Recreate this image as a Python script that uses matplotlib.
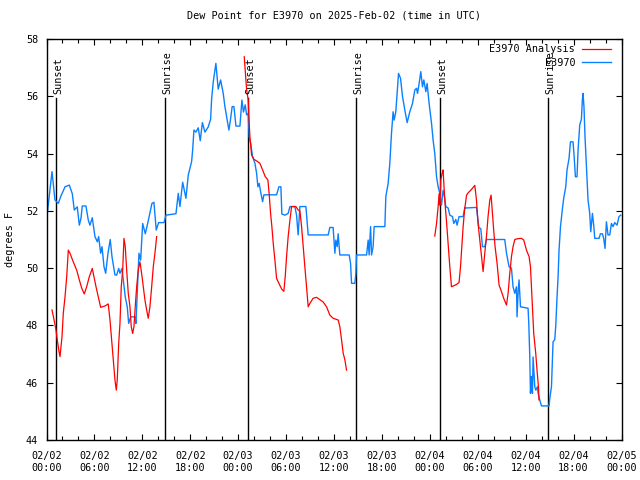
import numpy as np
import matplotlib
matplotlib.use("Agg")
import matplotlib.pyplot as plt
from matplotlib.ticker import FixedLocator, MultipleLocator

# ---- data: hours since 2025-02-02 00:00 UTC, dew point (deg F) ----
obs_t = [0.10, 0.69, 1.06, 1.48, 1.78, 2.32, 2.85, 3.23, 3.48, 3.85, 4.11, 4.32, 4.48, 4.94, 5.23, 5.44,
         5.73, 6.07, 6.36, 6.53, 6.78, 6.95, 7.20, 7.41, 7.70, 7.98, 8.20, 8.57, 8.79, 9.04, 9.20, 9.45,
         9.86, 10.11, 10.29, 10.54, 11.08, 11.20, 11.58, 11.79, 12.04, 12.37, 12.70, 13.20, 13.45, 13.74,
         14.04, 14.71, 14.96, 16.21, 16.50, 16.71, 17.05, 17.46, 17.75, 18.17, 18.30, 18.46, 18.71, 19.00,
         19.25, 19.52, 19.84, 20.25, 20.55, 20.68, 20.88, 21.21, 21.50, 21.80, 22.13, 22.34, 22.63, 22.84,
         23.03, 23.25, 23.47, 23.72, 24.22, 24.47, 24.66, 24.88, 25.06, 25.26, 25.38, 25.56, 25.81, 26.10,
         26.31, 26.47, 26.63, 26.81, 27.06, 27.22, 28.81, 29.10, 29.35, 29.47, 29.85, 30.26, 30.48, 31.10,
         31.31, 31.51, 31.73, 31.94, 32.48, 32.77, 35.27, 35.48, 35.89, 36.11, 36.23, 36.40, 36.52, 36.73,
         37.90, 38.07, 38.20, 38.61, 38.74, 38.82, 40.08, 40.28, 40.40, 40.58, 40.70, 40.90, 41.03, 42.37,
         42.49, 42.78, 42.99, 43.20, 43.40, 43.53, 43.74, 43.90, 44.08, 44.33, 44.58, 44.87, 45.16, 45.49,
         45.83, 46.12, 46.33, 46.46, 46.66, 46.87, 47.08, 47.25, 47.50, 47.66, 47.91, 48.21, 48.41, 48.62,
         48.84, 49.04, 49.25, 49.46, 49.66, 49.87, 49.99, 50.29, 50.50, 50.84, 51.00, 51.25, 51.41, 51.66,
         52.17, 52.38, 52.50, 53.84, 54.13, 54.38, 54.59, 54.88, 55.09, 57.38, 57.60, 57.92, 58.22, 58.42,
         58.64, 58.85, 58.92, 59.05, 59.17, 59.35, 60.30, 60.39, 60.51, 60.60, 60.72, 60.85, 60.93, 61.14,
         61.27, 61.48, 61.56, 61.76, 61.98, 62.93, 63.02, 63.23, 63.43, 63.64, 63.77, 63.93, 64.06, 64.18,
         64.36, 64.61, 64.77, 65.02, 65.18, 65.43, 65.61, 65.93, 66.06, 66.23, 66.43, 66.56, 66.77, 66.98,
         67.10, 67.18, 67.30, 67.43, 67.61, 67.81, 68.02, 68.15, 68.36, 68.52, 68.65, 69.19, 69.36, 69.61,
         69.77, 69.94, 70.11, 70.31, 70.53, 70.74, 70.94, 71.15, 71.44, 71.69, 71.90]
obs_v = [51.91, 53.37, 52.38, 52.26, 52.50, 52.84, 52.90, 52.60, 52.03, 52.14, 51.50, 51.74, 52.17, 52.17, 51.68, 51.50,
         51.76, 51.10, 50.92, 51.10, 50.52, 50.75, 50.05, 49.82, 50.52, 51.00, 50.40, 49.76, 49.76, 49.99, 49.82, 49.99,
         49.00, 48.65, 48.07, 48.30, 48.30, 48.07, 50.52, 50.28, 51.56, 51.20, 51.60, 52.26, 52.30, 51.33,
         51.59, 51.59, 51.85, 51.90, 52.61, 52.15, 53.00, 52.44, 53.25, 53.72, 54.12, 54.82, 54.75, 54.90,
         54.45, 55.08, 54.75, 54.93, 55.20, 55.93, 56.50, 57.15, 56.25, 56.57, 56.10, 55.64, 55.17, 54.82,
         55.17, 55.64, 55.64, 54.96, 54.96, 55.87, 55.45, 55.70, 55.35, 55.40, 54.59, 54.36, 53.89, 53.66,
         53.31, 52.84, 52.96, 52.67, 52.32, 52.56, 52.56, 52.84, 52.84, 51.89, 51.85, 51.91, 52.15, 52.15,
         51.85, 51.16, 52.15, 52.15, 52.15, 51.16, 51.16, 51.42, 51.42, 50.52, 50.98, 50.75, 51.20, 50.46,
         50.46, 50.17, 49.47, 49.47, 49.82, 50.46, 50.46, 50.98, 50.46, 51.45, 50.46, 50.75, 51.45, 51.45,
         52.50, 52.96, 53.66, 54.71, 55.46, 55.17, 55.46, 56.10, 56.80, 56.63, 55.99, 55.52, 55.08, 55.46,
         55.75, 56.22, 56.28, 56.10, 56.45, 56.86, 56.33, 56.57, 56.16, 56.45, 55.75, 55.06, 54.47, 54.00,
         53.19, 52.84, 52.61, 52.20, 52.72, 52.44, 52.15, 52.10, 51.85, 51.80, 51.56, 51.70, 51.50, 51.80,
         51.80, 52.12, 52.10, 52.12, 51.42, 51.38, 50.75, 50.75, 51.00, 51.00, 50.52, 50.05, 50.00, 49.35,
         49.12, 49.35, 48.30, 49.12, 49.59, 48.65, 48.60, 48.07, 46.97, 45.63, 46.22, 45.63, 46.90, 45.86,
         45.74, 45.86, 45.63, 45.40, 45.19, 45.19, 45.45, 45.86, 47.43, 47.50, 48.00, 49.00, 49.70, 50.63,
         51.45, 52.09, 52.45, 52.84, 53.43, 53.83, 54.41, 54.41, 53.94, 53.19, 53.19, 54.12, 55.00, 55.20,
         55.87, 56.10, 55.64, 54.59, 53.54, 52.38, 51.91, 51.27, 51.91, 51.50, 51.04, 51.04, 51.20, 51.20,
         51.04, 50.69, 51.62, 51.16, 51.16, 51.56, 51.45, 51.59, 51.50, 51.80, 51.85]

ana_t = [0.69, 0.94, 1.19, 1.35, 1.56, 1.69, 1.81, 1.94, 2.10, 2.32, 2.53, 2.73, 2.94, 3.35, 3.78, 4.11,
         4.41, 4.73, 5.03, 5.36, 5.73, 5.94, 6.20, 6.48, 6.78, 7.32, 7.73, 7.95, 8.16, 8.36, 8.57, 8.74,
         8.86, 9.04, 9.20, 9.36, 9.54, 9.70, 9.86, 10.04, 10.24, 10.45, 10.61, 10.79, 10.95, 11.11, 11.29,
         11.49, 11.70, 11.91, 12.12, 12.33, 12.54, 12.74, 12.95, 13.17, 13.37, 13.58, 13.79,
         np.nan,
         24.76, 25.06, 25.26, 25.34, 25.47, 25.68, 25.97, 26.38, 26.72, 27.06, 27.38, 27.72, 27.88, 28.06,
         28.22, 28.39, 28.60, 28.81, 29.01, 29.22, 29.47, 29.72, 29.89, 30.06, 30.26, 30.48, 30.69, 31.23,
         31.51, 31.73, 31.94, 32.14, 32.35, 32.56, 32.77, 32.98, 33.39, 33.82, 34.23, 34.64, 35.07, 35.48,
         35.89, 36.52, 36.73, 36.95, 37.15, 37.36, 37.57,
         np.nan,
         48.62, 48.84, 49.04, 49.16, 49.25, 49.37, 49.54, 49.66, 49.75, 49.87, 50.09, 50.29, 50.50, 50.71,
         51.34, 51.66, 51.84, 52.00, 52.17, 52.35, 52.60, 52.80, 53.22, 53.63, 53.84, 54.04, 54.26, 54.47,
         54.67, 54.88, 55.09, 55.29, 55.51, 55.67, 55.84, 56.01, 56.17, 56.42, 56.67, 56.97, 57.26, 57.60,
         57.80, 58.01, 58.22, 58.42, 58.64, 59.05, 59.47, 59.76, 60.10, 60.43, 60.60, 60.85, 61.01, 61.26,
         61.42, 61.60, 61.67]
ana_v = [48.54, 48.20, 47.84, 47.49, 47.10, 46.91, 47.25, 47.60, 48.42, 49.00, 49.70, 50.63, 50.52, 50.22, 49.93, 49.59,
         49.30, 49.10, 49.35, 49.70, 49.99, 49.70, 49.35, 49.00, 48.63, 48.68, 48.75, 48.19, 47.49, 46.79, 46.10, 45.74,
         46.10, 47.37, 48.07, 49.35, 49.93, 51.04, 50.75, 49.93, 49.12, 48.65, 47.96, 47.72, 47.96, 48.65, 49.35,
         49.93, 50.22, 49.82, 49.35, 48.88, 48.54, 48.25, 48.65, 49.35, 50.05, 50.52, 51.10,
         np.nan,
         57.38, 56.22, 55.87, 55.29, 54.59, 53.95, 53.80, 53.73, 53.66, 53.43, 53.20, 53.08, 52.60, 51.91,
         51.45, 50.87, 50.28, 49.64, 49.52, 49.40, 49.26, 49.19, 49.70, 50.40, 51.10, 51.68, 52.15, 52.15,
         52.03, 52.00, 51.45, 50.75, 50.05, 49.35, 48.65, 48.77, 48.95, 48.98, 48.90, 48.82, 48.65, 48.36,
         48.25, 48.19, 47.96, 47.49, 47.03, 46.80, 46.44,
         np.nan,
         51.12, 51.56, 52.15, 52.60, 52.20, 53.08, 53.31, 53.43, 52.96, 52.38, 51.62, 50.87, 50.05, 49.35,
         49.43, 49.50, 50.05, 50.75, 51.45, 52.03, 52.55, 52.63, 52.75, 52.89, 52.38, 51.56, 50.98, 50.40,
         49.88, 50.52, 51.10, 51.80, 52.38, 52.55, 51.91, 51.27, 50.75, 50.17, 49.41, 49.18, 48.94, 48.71,
         49.12, 49.82, 50.40, 50.75, 51.00, 51.03, 51.04, 50.98, 50.63, 50.40, 50.05, 48.65, 47.72, 47.03,
         46.44, 45.86, 45.40]

sun_t = [1.19, 14.90, 25.27, 38.78, 49.30, 62.81]
sun_labels = ["Sunset", "Sunrise", "Sunset", "Sunrise", "Sunset", "Sunrise"]

xtick_hours = [0, 6, 12, 18, 24, 30, 36, 42, 48, 54, 60, 66, 72]
xtick_labels = ["02/02\n00:00", "02/02\n06:00", "02/02\n12:00", "02/02\n18:00",
                "02/03\n00:00", "02/03\n06:00", "02/03\n12:00", "02/03\n18:00",
                "02/04\n00:00", "02/04\n06:00", "02/04\n12:00", "02/04\n18:00",
                "02/05\n00:00"]
ytick_vals = [44, 46, 48, 50, 52, 54, 56, 58]

FONT = "DejaVu Sans Mono"
FS = 7.3
plt.rcParams['font.family'] = [FONT]
plt.rcParams['font.size'] = FS

fig = plt.figure(figsize=(6.4, 4.8), dpi=100)
ax = fig.add_axes([46.5/640, 40/480, 575/640, 401/480])

ax.plot(ana_t, ana_v, color="#ff0000", lw=0.9, label="E3970 Analysis", zorder=3)
ax.plot(obs_t, obs_v, color="#0a80ff", lw=1.0, label="E3970", zorder=2)

for t, lab in zip(sun_t, sun_labels):
    ax.axvline(t, ymin=0, ymax=0.853, color="black", lw=1.0, zorder=1)
    ax.annotate(lab, xy=(t, 44 + 0.853 * 14), xytext=(1.5, 3), textcoords="offset points",
                rotation=90, ha="center", va="bottom", fontsize=FS, family=FONT)

ax.set_xlim(0, 72)
ax.set_ylim(44, 58)
ax.xaxis.set_major_locator(FixedLocator(xtick_hours))
ax.set_xticklabels(xtick_labels)
ax.xaxis.set_minor_locator(MultipleLocator(2))
ax.yaxis.set_major_locator(FixedLocator(ytick_vals))
ax.tick_params(which="both", direction="in", top=True, right=True, width=0.8, labelsize=FS)
ax.tick_params(which="major", length=4.5)
ax.tick_params(which="minor", length=3)
ax.tick_params(axis="x", which="major", pad=8)
ax.tick_params(axis="y", which="major", pad=6)
for s in ax.spines.values():
    s.set_linewidth(1.0)

ax.set_title("Dew Point for E3970 on 2025-Feb-02 (time in UTC)", fontsize=FS, pad=15)
ax.set_ylabel("degrees F", fontsize=FS, labelpad=8)

leg = ax.legend(loc="upper right", bbox_to_anchor=(0.99, 1.0), frameon=False, markerfirst=False,
                fontsize=FS, handlelength=2.8, handletextpad=0.7, borderpad=0.3,
                labelspacing=0.35, borderaxespad=0.2)

fig.savefig("out.png", dpi=100)
